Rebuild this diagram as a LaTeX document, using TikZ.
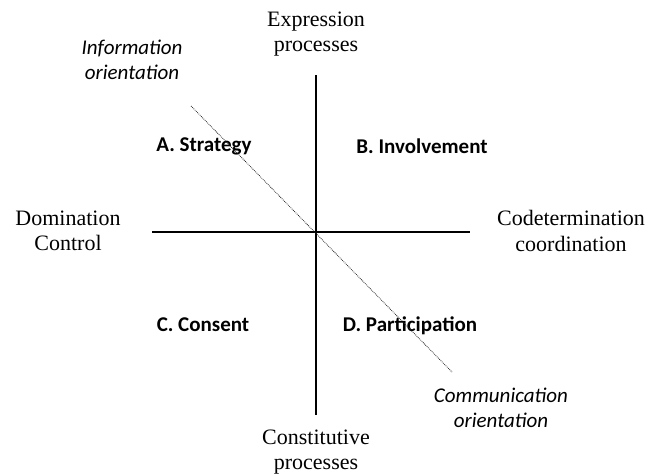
\documentclass[tikz,border=0pt]{standalone}
\usepackage{fontspec}
\setmainfont{Liberation Serif}
\newfontfamily\quadfont{Carlito}
\usetikzlibrary{positioning}

\begin{document}
\begin{tikzpicture}
  [x=1pt,y=-1pt,inner sep=0pt,
   pole/.style={align=center,font=\fontsize{22}{25.5}\selectfont},
   quad/.style={font=\quadfont\bfseries\fontsize{21}{25}\selectfont},
   orient/.style={align=center,font=\quadfont\itshape\fontsize{21}{25}\selectfont},
   axis/.style={line width=1.4pt},
   diag/.style={densely dotted,line width=0.8pt,black!85}]
  \useasboundingbox (0,0) rectangle (660,475);

  % ends of the two axes and the dotted diagonal
  \coordinate (o) at (316,232);
  \coordinate (up) at (316,75);
  \coordinate (down) at (316,415);
  \coordinate (left) at (152,232);
  \coordinate (right) at (470,232);
  \coordinate (d1) at (191,106);
  \coordinate (d2) at (452,372);

  \node[pole] (expr) at (316,34) {Expression\\processes};
  \node[pole] (const) at (316,452) {Constitutive\\processes};
  \node[pole] (dom) at (68,231) {Domination\\Control};
  \node[pole] (codet) at (571,231) {Codetermination\\coordination};

  \node[orient] (info) at (132,60) {Information\\orientation};
  \node[orient] (comm) at (501,408) {Communication\\orientation};

  \node[quad] (qa) at (204,146) {A. Strategy};
  \node[quad] (qb) at (422,146) {B. Involvement};
  \node[quad] (qc) at (203,325) {C. Consent};
  \node[quad] (qd) at (410,326) {D. Participation};

  \foreach \from/\to in {up/down,left/right}
    \draw[axis] (\from) -- (\to);
  \draw[diag] (d1) -- (d2);

\end{tikzpicture}
\end{document}
